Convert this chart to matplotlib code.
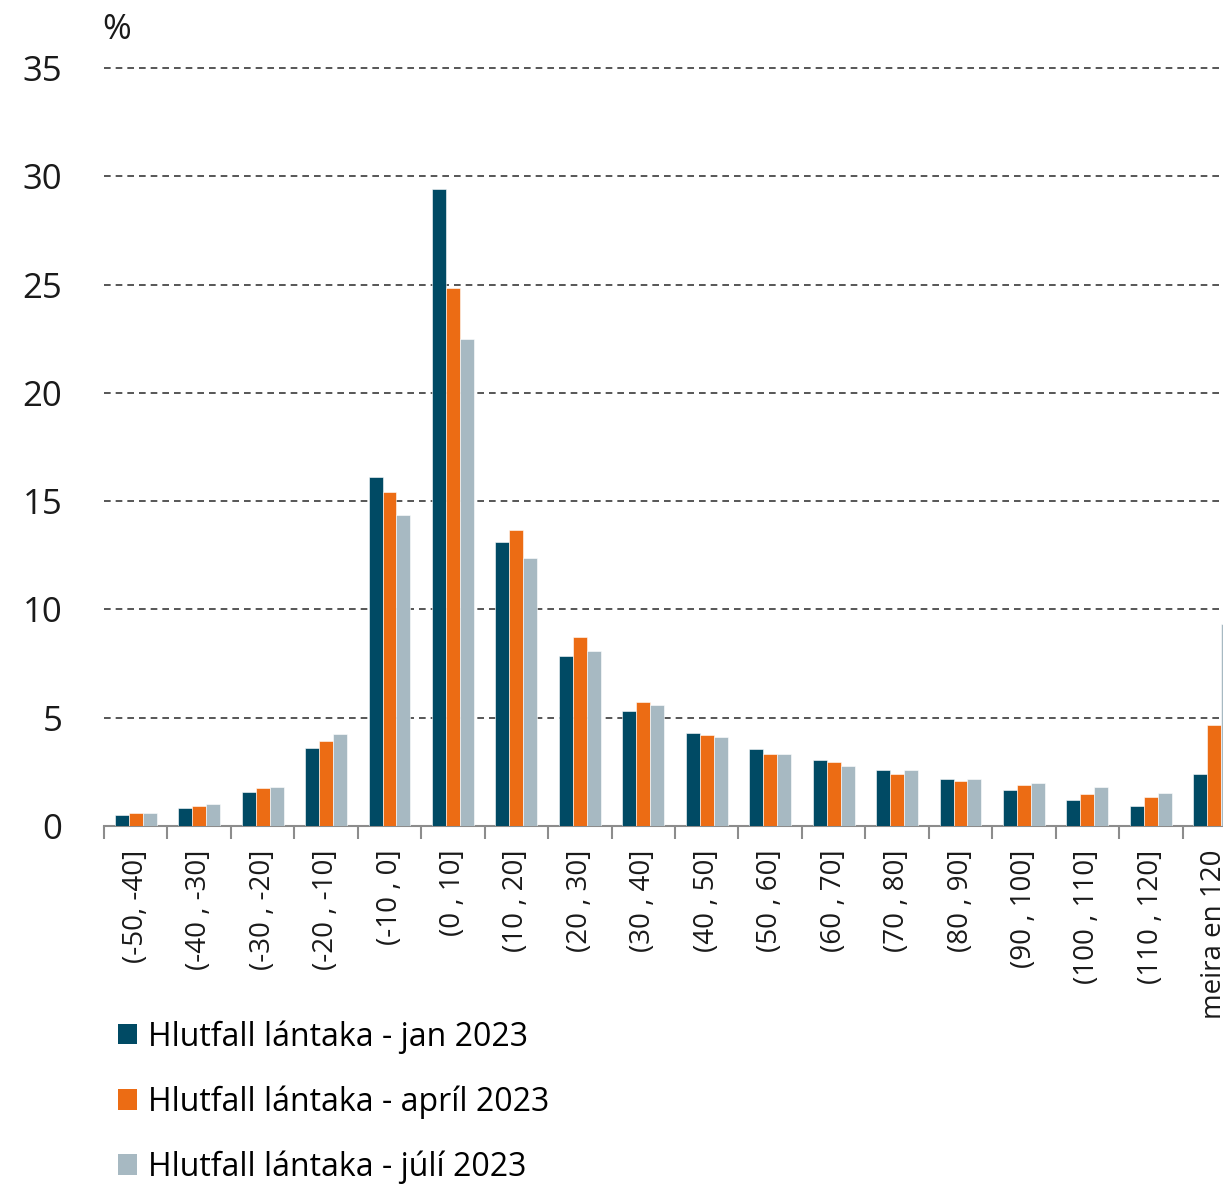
import numpy as np
import matplotlib
matplotlib.use("Agg")
import matplotlib.pyplot as plt
from matplotlib.patches import Patch

plt.rcParams['font.family'] = ['Open Sans', 'DejaVu Sans']

# ---- data ----
categories = ['(-50, -40]', '(-40 , -30]', '(-30 , -20]', '(-20 , -10]', '(-10 , 0]',
              '(0 , 10]', '(10 , 20]', '(20 , 30]', '(30 , 40]', '(40 , 50]',
              '(50 , 60]', '(60 , 70]', '(70 , 80]', '(80 , 90]', '(90 , 100]',
              '(100 , 110]', '(110 , 120]', 'meira en 120']
jan = [0.51, 0.81, 1.57, 3.61, 16.1, 29.4, 13.1, 7.85, 5.29, 4.28,
       3.54, 3.03, 2.58, 2.15, 1.65, 1.21, 0.91, 2.4]
april = [0.61, 0.92, 1.75, 3.94, 15.4, 24.84, 13.65, 8.73, 5.72, 4.22,
         3.34, 2.95, 2.4, 2.09, 1.91, 1.46, 1.34, 4.65]
juli = [0.61, 1.0, 1.81, 4.25, 14.35, 22.47, 12.36, 8.09, 5.59, 4.09,
        3.34, 2.78, 2.58, 2.15, 1.97, 1.78, 1.52, 9.32]
series_labels = ['Hlutfall lántaka - jan 2023',
                 'Hlutfall lántaka - apríl 2023',
                 'Hlutfall lántaka - júlí 2023']
colors = ['#004a64', '#ec6c14', '#a7b9c2']

W, H = 1223, 1184
fig = plt.figure(figsize=(W / 100, H / 100), dpi=100)

# axes runs past the right edge of the figure (the last group is cut off)
ax_left, ax_bottom, ax_w, ax_h = 104, 358, 1142, 758
ax = fig.add_axes([ax_left / W, ax_bottom / H, ax_w / W, ax_h / H])

x = np.arange(len(categories))
bw = 0.22
for i, (vals, c, lab) in enumerate(zip([jan, april, juli], colors, series_labels)):
    ax.bar(x + (i - 1) * bw, vals, width=bw, color=c, label=lab,
           edgecolor='white', linewidth=0.4, zorder=3)

ax.set_xlim(-0.5, len(categories) - 0.5)
ax.set_ylim(0, 35)
ax.set_yticks(np.arange(0, 36, 5))
ax.tick_params(axis='y', length=0, pad=30, labelsize=25, labelcolor='#1a1a1a')

for yv in range(5, 36, 5):
    ax.axhline(yv, color='#3a3a3a', lw=1.2, ls=(0, (4, 3)), zorder=1, clip_on=False)

ax.set_xticks(x)
ax.set_xticklabels(categories, rotation=90, va='top', ha='center')
ax.tick_params(axis='x', which='major', length=0, pad=17, labelsize=20,
               labelcolor='#1a1a1a')
ax.set_xticks(np.arange(-0.5, len(categories), 1), minor=True)
ax.tick_params(axis='x', which='minor', length=9, width=1.5, color='#8c8c8c')

for s in ['top', 'right', 'left']:
    ax.spines[s].set_visible(False)
ax.spines['bottom'].set_color('#8c8c8c')
ax.spines['bottom'].set_linewidth(1.5)

fig.text(102 / W, 1 - 30 / H, '%', fontsize=25, va='center', ha='left', color='#1a1a1a')

handles = [Patch(facecolor=c, edgecolor='none') for c in colors]
fig.legend(handles, series_labels, loc='upper left',
           bbox_to_anchor=(118 / W, 1 - 1020 / H), frameon=False,
           fontsize=23, handlelength=0.6, handleheight=0.6,
           handletextpad=0.35, labelspacing=0.99, borderpad=0, borderaxespad=0)

fig.savefig('out.png', dpi=100)
